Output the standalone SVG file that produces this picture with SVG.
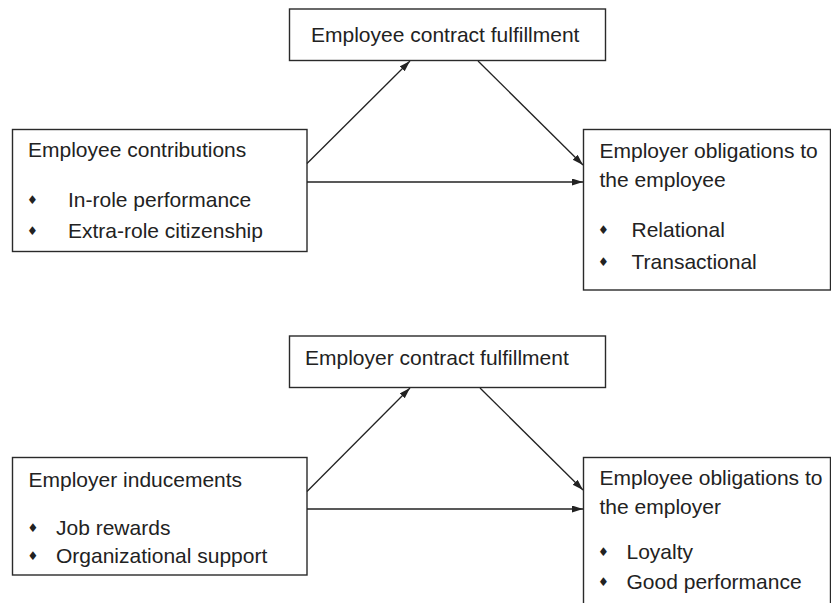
<svg xmlns="http://www.w3.org/2000/svg" width="831" height="603" viewBox="0 0 831 603">
  <style>
    .box { fill: #ffffff; stroke: #2a2a2a; stroke-width: 1.4; }
    .lbl { font-family: "Liberation Sans", Arial, sans-serif; font-size: 21px; fill: #222222; }
    .dot { font-family: "DejaVu Sans", sans-serif; font-size: 12px; fill: #222222; text-anchor: middle; }
    .edge { fill: none; stroke: #222222; stroke-width: 1.3; marker-end: url(#head); }
  </style>
  <defs>
    <marker id="head" markerUnits="userSpaceOnUse" markerWidth="12" markerHeight="8" refX="11" refY="3.5" orient="auto">
      <path d="M0,0 L11,3.5 L0,7 Z" fill="#222222"/>
    </marker>
  </defs>
  <rect width="831" height="603" fill="#ffffff"/>

  <!-- upper model -->
  <g id="employee-fulfillment">
    <rect class="box" x="289.5" y="9" width="316" height="51.5"/>
    <text class="lbl" x="311" y="41.5">Employee contract fulfillment</text>
  </g>
  <g id="employee-contributions">
    <rect class="box" x="12.5" y="129.5" width="294.5" height="122"/>
    <text class="lbl" x="28" y="156.5">Employee contributions</text>
    <text class="dot" x="32.5" y="204">♦</text>
    <text class="lbl" x="68" y="207">In-role performance</text>
    <text class="dot" x="32.5" y="235">♦</text>
    <text class="lbl" x="68" y="238">Extra-role citizenship</text>
  </g>
  <g id="employer-obligations">
    <rect class="box" x="583.5" y="129.5" width="247" height="160.5"/>
    <text class="lbl" x="599.5" y="157.5">Employer obligations to</text>
    <text class="lbl" x="599.5" y="186.5">the employee</text>
    <text class="dot" x="603.5" y="233.5">♦</text>
    <text class="lbl" x="631.5" y="236.5">Relational</text>
    <text class="dot" x="603.5" y="266">♦</text>
    <text class="lbl" x="631.5" y="269">Transactional</text>
  </g>

  <!-- lower model -->
  <g id="employer-fulfillment">
    <rect class="box" x="289.5" y="336" width="316" height="51.5"/>
    <text class="lbl" x="305" y="364.5">Employer contract fulfillment</text>
  </g>
  <g id="employer-inducements">
    <rect class="box" x="12.5" y="457.5" width="294.5" height="117.5"/>
    <text class="lbl" x="28.5" y="486.5">Employer inducements</text>
    <text class="dot" x="33" y="531.5">♦</text>
    <text class="lbl" x="56" y="534.5">Job rewards</text>
    <text class="dot" x="33" y="559.5">♦</text>
    <text class="lbl" x="56" y="562.5">Organizational support</text>
  </g>
  <g id="employee-obligations">
    <rect class="box" x="583.5" y="457.5" width="247" height="150"/>
    <text class="lbl" x="599.5" y="485">Employee obligations to</text>
    <text class="lbl" x="599.5" y="513.5">the employer</text>
    <text class="dot" x="603.5" y="555.5">♦</text>
    <text class="lbl" x="626.5" y="558.5">Loyalty</text>
    <text class="dot" x="603.5" y="585.5">♦</text>
    <text class="lbl" x="626.5" y="588.5">Good performance</text>
  </g>

  <g id="connectors">
    <line class="edge" x1="307" y1="163.5" x2="410" y2="61"/>
    <line class="edge" x1="478" y1="61" x2="583" y2="165"/>
    <line class="edge" x1="307" y1="182" x2="583" y2="182"/>
    <line class="edge" x1="307" y1="491.5" x2="410" y2="388"/>
    <line class="edge" x1="480" y1="388" x2="583" y2="490"/>
    <line class="edge" x1="307" y1="509" x2="583" y2="509"/>
  </g>
</svg>
